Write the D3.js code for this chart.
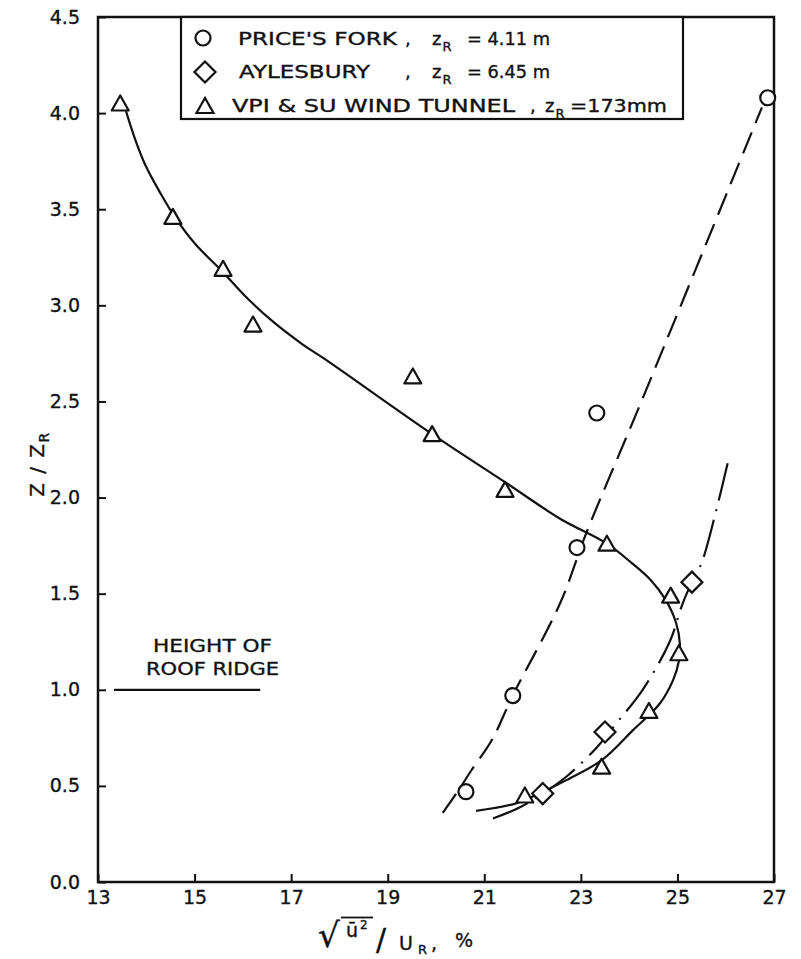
<!DOCTYPE html>
<html>
<head>
<meta charset="utf-8">
<script src="https://cdn.jsdelivr.net/npm/d3@7"></script>
<style>
  html, body { margin: 0; padding: 0; background: #fff; }
  svg { display: block; }
  text { font-family: "DejaVu Sans", sans-serif; fill: #111; stroke: #111; stroke-width: 0.35px; }
</style>
</head>
<body>
<svg id="chart" width="801" height="959"></svg>
<script>
// ---------------- data ----------------
const xTickValues = [13, 15, 17, 19, 21, 23, 25, 27];
const yTickValues = [0, 0.5, 1.0, 1.5, 2.0, 2.5, 3.0, 3.5, 4.0, 4.5];

// VPI & SU wind tunnel (triangles)
const vpiX = [13.46, 14.55, 15.59, 16.21, 19.52, 19.92, 21.43, 23.54, 24.86, 25.03, 24.41, 23.43, 21.84];
const vpiY = [4.05, 3.46, 3.19, 2.90, 2.63, 2.33, 2.04, 1.76, 1.49, 1.19, 0.89, 0.60, 0.45];

// Price's Fork (circles)
const priceX = [26.87, 23.33, 22.92, 21.59, 20.62];
const priceY = [4.08, 2.44, 1.74, 0.97, 0.47];

// Aylesbury (diamonds)
const aylesX = [25.30, 23.50, 22.21];
const aylesY = [1.56, 0.78, 0.46];

// faired curves
const vpiCurveX = [13.58, 13.76, 13.98, 14.30, 14.59, 15.01, 15.56, 16.04, 16.60, 17.22, 17.70, 19.92, 21.43, 22.57, 23.54, 24.05, 24.45, 24.75, 24.97, 25.05, 25.03, 24.91, 24.64, 24.08, 23.44, 22.70, 22.22, 21.67, 20.83];
const vpiCurveY = [4.01, 3.87, 3.73, 3.58, 3.46, 3.32, 3.18, 3.05, 2.92, 2.80, 2.72, 2.33, 2.08, 1.89, 1.76, 1.66, 1.57, 1.47, 1.35, 1.24, 1.15, 1.05, 0.93, 0.79, 0.635, 0.53, 0.47, 0.41, 0.37];

const priceCurveX = [20.14, 20.50, 20.73, 21.16, 21.59, 22.57, 23.12, 24.22, 26.75];
const priceCurveY = [0.36, 0.49, 0.58, 0.74, 0.97, 1.45, 1.82, 2.48, 4.03];

const aylesCurveX = [21.18, 21.75, 22.21, 22.71, 23.33, 23.75, 24.28, 24.84, 25.11, 25.30, 25.50, 25.80, 26.06];
const aylesCurveY = [0.33, 0.39, 0.46, 0.55, 0.70, 0.83, 1.00, 1.25, 1.45, 1.56, 1.66, 1.93, 2.20];

const ridgeHeight = 1.0;
const ridgeX = [13.33, 16.36];

// ---------------- layout ----------------
(function () {
const svg = d3.select("#chart");
const pL = 98, pR = 774, pT = 17, pB = 882;
const x = d3.scaleLinear().domain([13, 27]).range([pL, pR]);
const y = d3.scaleLinear().domain([0, 4.5]).range([pB, pT]);

const zip = (xs, ys) => xs.map((v, i) => [v, ys[i]]);
const line = d3.line().x(d => x(d[0])).y(d => y(d[1])).curve(d3.curveCatmullRom.alpha(0.5));

// axes
const gx = svg.append("g").attr("transform", `translate(0,${pB})`)
  .call(d3.axisBottom(x).tickValues(xTickValues).tickSize(-8).tickPadding(9).tickFormat(d3.format("d")));
const gy = svg.append("g").attr("transform", `translate(${pL},0)`)
  .call(d3.axisLeft(y).tickValues(yTickValues).tickSize(-8).tickPadding(18).tickFormat(d3.format(".1f")));
[gx, gy].forEach(g => {
  g.select(".domain").remove();
  g.selectAll(".tick line").attr("stroke", "#111").attr("stroke-width", 2);
  g.selectAll(".tick text").attr("font-family", "DejaVu Sans, sans-serif").attr("font-size", 19).attr("fill", "#111");
});

// frame
svg.append("rect").attr("x", pL).attr("y", pT).attr("width", pR - pL).attr("height", pB - pT)
  .attr("fill", "none").attr("stroke", "#111").attr("stroke-width", 2.5);

// curves
svg.append("path").datum(zip(vpiCurveX, vpiCurveY)).attr("d", line)
  .attr("fill", "none").attr("stroke", "#111").attr("stroke-width", 2.2);
svg.append("path").datum(zip(priceCurveX, priceCurveY)).attr("d", line)
  .attr("fill", "none").attr("stroke", "#111").attr("stroke-width", 2.2).attr("stroke-dasharray", "23 10");
svg.append("path").datum(zip(aylesCurveX, aylesCurveY)).attr("d", line)
  .attr("fill", "none").attr("stroke", "#111").attr("stroke-width", 2.2).attr("stroke-dasharray", "38 9 2 9");

// markers
const triPath = (cx, cy) => `M${cx - 8.5},${cy + 7}L${cx + 8.5},${cy + 7}L${cx},${cy - 8}Z`;
const diaPath = (cx, cy) => `M${cx},${cy - 10.5}L${cx + 10.5},${cy}L${cx},${cy + 10.5}L${cx - 10.5},${cy}Z`;

svg.append("g").selectAll("path").data(zip(vpiX, vpiY)).join("path")
  .attr("d", d => triPath(x(d[0]), y(d[1])))
  .attr("fill", "#fff").attr("stroke", "#111").attr("stroke-width", 2.2).attr("stroke-linejoin", "round");
svg.append("g").selectAll("circle").data(zip(priceX, priceY)).join("circle")
  .attr("cx", d => x(d[0])).attr("cy", d => y(d[1])).attr("r", 7.5)
  .attr("fill", "#fff").attr("stroke", "#111").attr("stroke-width", 2.2);
svg.append("g").selectAll("path").data(zip(aylesX, aylesY)).join("path")
  .attr("d", d => diaPath(x(d[0]), y(d[1])))
  .attr("fill", "#fff").attr("stroke", "#111").attr("stroke-width", 2.2);

// roof ridge line and note
svg.append("line").attr("x1", x(ridgeX[0])).attr("x2", x(ridgeX[1]))
  .attr("y1", y(ridgeHeight)).attr("y2", y(ridgeHeight)).attr("stroke", "#111").attr("stroke-width", 2.2);
svg.append("text").attr("x", 153).attr("y", 652).attr("font-size", 18)
  .attr("textLength", 119).attr("lengthAdjust", "spacingAndGlyphs").text("HEIGHT OF");
svg.append("text").attr("x", 146).attr("y", 675).attr("font-size", 18)
  .attr("textLength", 133).attr("lengthAdjust", "spacingAndGlyphs").text("ROOF RIDGE");

// legend
svg.append("rect").attr("x", 181).attr("y", pT).attr("width", 502).attr("height", 102)
  .attr("fill", "#fff").attr("stroke", "#111").attr("stroke-width", 2.2);
svg.append("circle").attr("cx", 203).attr("cy", 38).attr("r", 7.5)
  .attr("fill", "#fff").attr("stroke", "#111").attr("stroke-width", 2.2);
svg.append("path").attr("d", diaPath(205, 72))
  .attr("fill", "#fff").attr("stroke", "#111").attr("stroke-width", 2.2);
svg.append("path").attr("d", triPath(205, 106))
  .attr("fill", "#fff").attr("stroke", "#111").attr("stroke-width", 2.2);

const legendRows = [
  { name: "PRICE'S FORK", x0: 238, w: 159, base: 45, val: "= 4.11 m", vx: 467, vw: 83 },
  { name: "AYLESBURY", x0: 239, w: 131, base: 78, val: "= 6.45 m", vx: 467, vw: 83 },
  { name: "VPI & SU WIND TUNNEL", x0: 232, w: 283, base: 112, val: "=173mm", vx: 570, vw: 97 }
];
legendRows.forEach((r, i) => {
  const fs = 18;
  svg.append("text").attr("x", r.x0).attr("y", r.base).attr("font-size", fs)
    .attr("textLength", r.w).attr("lengthAdjust", "spacingAndGlyphs").text(r.name);
  const cx = i === 2 ? 530 : 405;
  const zx = i === 2 ? 545 : 432;
  svg.append("text").attr("x", cx).attr("y", r.base).attr("font-size", fs).text(",");
  const t = svg.append("text").attr("x", zx).attr("y", r.base).attr("font-size", fs);
  t.append("tspan").text("z");
  t.append("tspan").attr("font-size", 13).attr("dy", 6).attr("dx", 1).text("R");
  svg.append("text").attr("x", r.vx).attr("y", r.base).attr("font-size", fs)
    .attr("textLength", r.vw).attr("lengthAdjust", "spacingAndGlyphs").text(r.val);
});

// y-axis title
const yt = svg.append("text").attr("transform", "translate(44,464) rotate(-90)")
  .attr("text-anchor", "middle").attr("font-size", 20).attr("letter-spacing", 1.5);
yt.append("tspan").text("Z / Z");
yt.append("tspan").attr("font-size", 14).attr("dy", 5).text("R");

// x-axis title:  sqrt(u'^2) / U_R, %
const xt = svg.append("text").attr("font-size", 19);
xt.append("tspan").attr("x", 318).attr("y", 947).attr("font-size", 34).text("\u221A");
xt.append("tspan").attr("x", 346).attr("y", 937).attr("font-size", 19).text("\u016B");
xt.append("tspan").attr("x", 360).attr("y", 929).attr("font-size", 12).text("2");
xt.append("tspan").attr("x", 376).attr("y", 950).attr("font-size", 30).text("/");
xt.append("tspan").attr("x", 399).attr("y", 950).attr("font-size", 19).text("U");
xt.append("tspan").attr("x", 418).attr("y", 954).attr("font-size", 13).text("R");
xt.append("tspan").attr("x", 431).attr("y", 950).attr("font-size", 19).text(",");
xt.append("tspan").attr("x", 455).attr("y", 947).attr("font-size", 19).text("%");
svg.append("line").attr("x1", 341).attr("x2", 373).attr("y1", 917.5).attr("y2", 917.5)
  .attr("stroke", "#111").attr("stroke-width", 1.8);
})();
</script>
</body>
</html>
